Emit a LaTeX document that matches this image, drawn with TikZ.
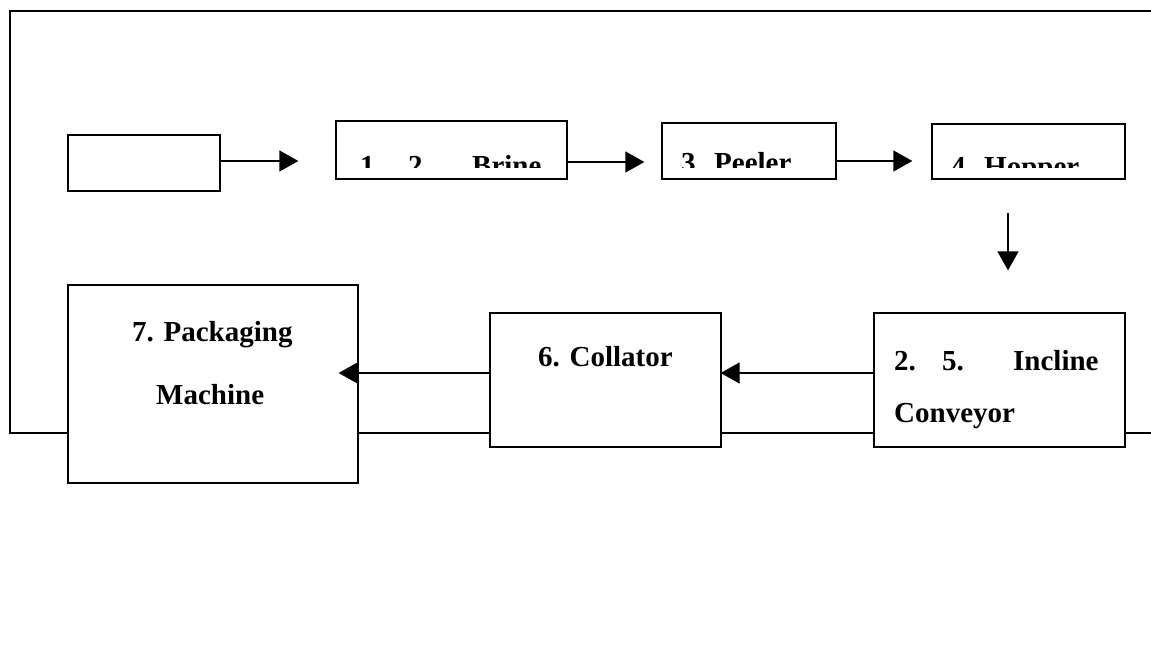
\documentclass[tikz,border=0pt]{standalone}
\usepackage{fontspec}
\setmainfont{Liberation Serif}
\usetikzlibrary{arrows.meta}

\tikzset{
  box/.style={draw, fill=white, line width=1.3pt, inner sep=0pt},
  lbl/.style={anchor=base west, inner sep=0pt, font=\fontsize{29}{32}\selectfont\bfseries},
  flow/.style={line width=1.3pt, -{Triangle[length=19pt,width=21pt]}},
  frameline/.style={line width=1.3pt}
}

\begin{document}
\begin{tikzpicture}[x=1pt,y=-1pt]
  \useasboundingbox (0,0) rectangle (1151,646);
  \clip (0,0) rectangle (1151,646);

  % outer loop line behind the boxes
  \draw[frameline] (1180,11) -- (10,11) -- (10,433) -- (1180,433);

  % top row
  \node[box, minimum width=152pt, minimum height=56pt] (b0) at (144,163) {};
  \node[box, minimum width=231pt, minimum height=58pt] (b1) at (451.5,150) {};
  \node[box, minimum width=174pt, minimum height=56pt] (b2) at (749,151) {};
  \node[box, minimum width=193pt, minimum height=55pt] (b3) at (1028.5,151.5) {};

  % bottom row
  \node[box, minimum width=290pt, minimum height=198pt] (b4) at (213,384) {};
  \node[box, minimum width=231pt, minimum height=134pt] (b5) at (605.5,380) {};
  \node[box, minimum width=251pt, minimum height=134pt] (b6) at (999.5,380) {};

  % top labels, cut off by the text area of each box
  \begin{scope}
    \clip (b1.north west) rectangle (567,167);
    \node[lbl] (t1a) at (360,175) {1};
    \node[lbl] (t1b) at (408,175) {2};
    \node[lbl] (t1c) at (472,175) {Brine};
  \end{scope}
  \begin{scope}
    \clip (b2.north west) rectangle (836,167);
    \node[lbl] (t2a) at (681,172) {3};
    \node[lbl] (t2b) at (714,172) {Peeler};
  \end{scope}
  \begin{scope}
    \clip (b3.north west) rectangle (1125,167);
    \node[lbl] (t3a) at (951,176) {4};
    \node[lbl] (t3b) at (984,176) {Hopper};
  \end{scope}

  % bottom labels
  \node[lbl] (t4a) at (132,341) {7. Packaging};
  \node[lbl] (t4b) at (156,404) {Machine};
  \node[lbl] (t5) at (538,366) {6. Collator};
  \node[lbl] (t6a) at (894,370) {2.};
  \node[lbl] (t6b) at (942,370) {5.};
  \node[lbl] (t6c) at (1013,370) {Incline};
  \node[lbl] (t6d) at (894,422) {Conveyor};

  % connector anchors
  \coordinate (s1) at (220,161);
  \coordinate (s2) at (567,162);
  \coordinate (s3) at (836,161);
  \coordinate (s4) at (1008,179);
  \coordinate (s5) at (874,373);
  \coordinate (s6) at (490,373);

  % arrows
  \draw[flow, shorten >=37pt] (s1) -- (s1 -| b1.west);
  \draw[flow, shorten >=17pt] (s2) -- (s2 -| b2.west);
  \draw[flow, shorten >=19pt] (s3) -- (s3 -| b3.west);
  \draw[flow, shorten <=34pt, shorten >=42pt] (s4) -- (s4 |- b6.north);
  \draw[flow, shorten >=-1pt] (s5) -- (s5 -| b5.east);
  \draw[flow, shorten >=-20pt] (s6) -- (s6 -| b4.east);
\end{tikzpicture}
\end{document}
